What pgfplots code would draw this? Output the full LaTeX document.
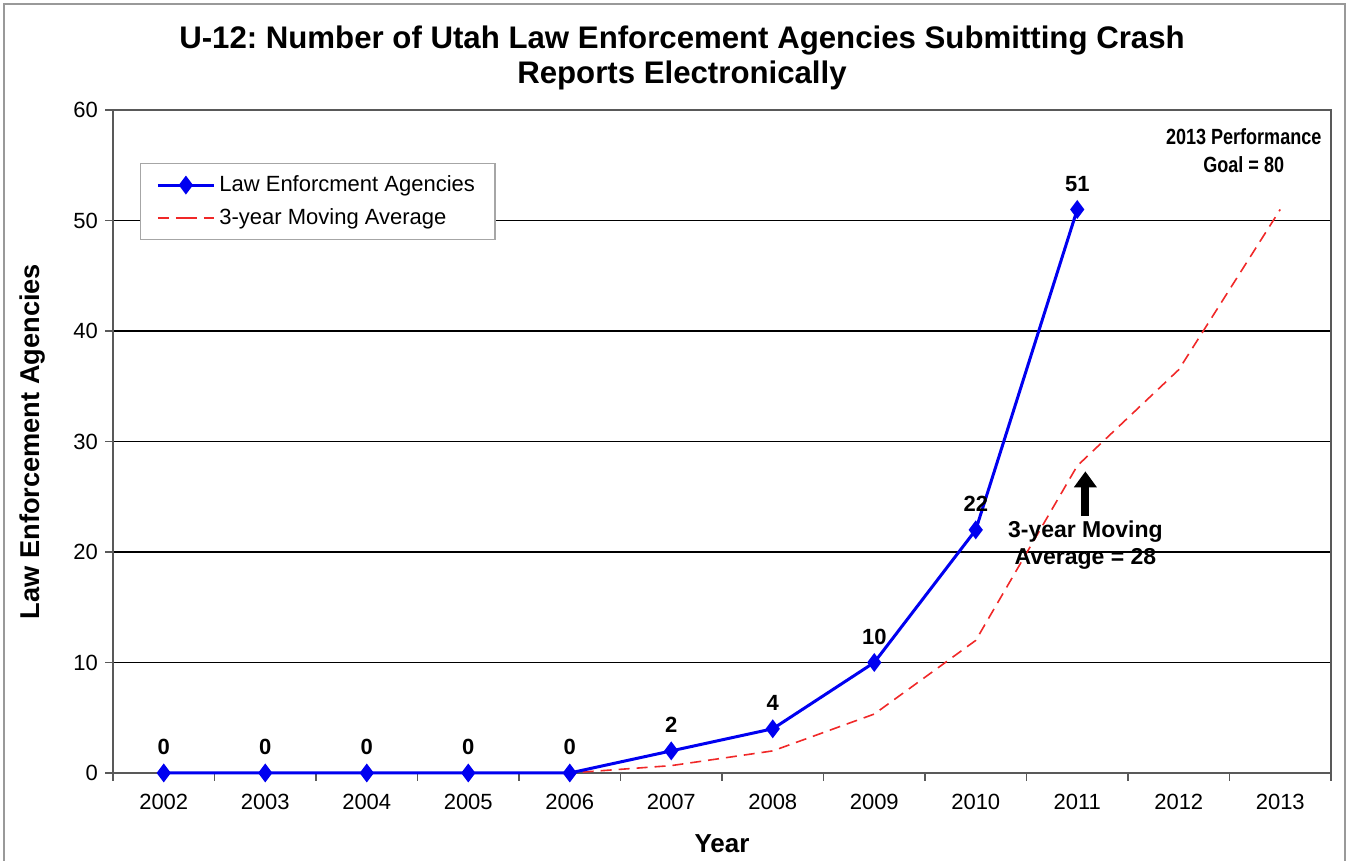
\documentclass[border=0pt]{standalone}
\usepackage{fontspec}
\setmainfont{Liberation Sans}
\usepackage{graphicx}
\usepackage{pgfplots}
\pgfplotsset{compat=1.18}
\usetikzlibrary{arrows.meta}
\definecolor{lineblue}{RGB}{0,0,240}
\definecolor{mared}{RGB}{240,40,40}
\frenchspacing
\begin{document}
\begin{tikzpicture}
\clip (0,0) rectangle (674.5pt,430.5pt);
\useasboundingbox (0,0) rectangle (674.5pt,430.5pt);
\draw[gray!80, line width=1.2pt] (2pt,-10pt) rectangle (672.5pt,428.5pt);
\node[font=\bfseries\fontsize{15.6}{17.5}\selectfont, align=center] at (341pt,401.75pt)
  {U-12: Number of Utah Law Enforcement Agencies Submitting Crash\\Reports Electronically};
\begin{axis}[
  at={(56.5pt,44pt)}, anchor=south west,
  scale only axis, width=609pt, height=331.5pt,
  xmin=-0.5, xmax=11.5, ymin=0, ymax=60,
  xtick={0,...,11},
  xticklabels={2002,2003,2004,2005,2006,2007,2008,2009,2010,2011,2012,2013},
  major x tick style={draw=none},
  minor xtick={-0.5,0.5,...,11.5},
  ytick={0,10,...,60},
  xtick pos=bottom, ytick pos=left,
  tick align=outside,
  major tick length=4pt, minor tick length=4pt,
  x tick label style={yshift=-3pt},
  ymajorgrids, grid style={black, line width=0.6pt},
  axis line style={gray!70!black, line width=0.7pt},
  tick style={gray!70!black, line width=0.6pt},
  ticklabel style={font=\fontsize{11}{13}\selectfont},
  /pgf/number format/assume math mode=true,
  xlabel={Year}, ylabel={Law Enforcement Agencies},
  xlabel style={font=\bfseries\fontsize{13}{15}\selectfont, yshift=-5.5pt},
  ylabel style={font=\bfseries\fontsize{13.6}{15}\selectfont, yshift=7pt},
  legend style={at={(rel axis cs:0.022,0.92)}, anchor=north west,
    draw=gray!70, line width=0.6pt, font=\fontsize{11}{13}\selectfont,
    row sep=3pt, inner xsep=8pt, inner ysep=4pt, legend cell align=left},
  legend image code/.code={\draw[#1] (0pt,0pt) -- (14pt,0pt) plot coordinates {(14pt,0pt)} -- (28pt,0pt);},
  clip=false,
]
\addplot[mared, line width=0.8pt, dash pattern=on 5.5pt off 3.5pt, forget plot] coordinates {
  (2,0) (3,0) (4,0) (5,0.667) (6,2) (7,5.333) (8,12) (9,27.8) (10,36.5) (11,51)};
\addplot[lineblue, line width=1.5pt, mark=diamond*, mark size=3.5pt,
  nodes near coords, every node near coord/.append style={black, font=\bfseries\fontsize{11}{13}\selectfont, yshift=5pt}] coordinates {
  (0,0) (1,0) (2,0) (3,0) (4,0) (5,2) (6,4) (7,10) (8,22) (9,51)};
\addlegendentry{Law Enforcment Agencies}
\addlegendimage{mared, line width=0.8pt, dash pattern=on 5.5pt off 3.5pt}
\addlegendentry{3-year Moving Average}
\draw[black, line width=4pt, -{Triangle[width=11pt,length=8pt]}] (axis cs:9.08,23.3) -- (axis cs:9.08,27.3);
\node[font=\bfseries\fontsize{11.5}{13.5}\selectfont, align=center] at (axis cs:9.08,20.6) {3-year Moving\\Average = 28};
\node[font=\bfseries\fontsize{11}{14}\selectfont, align=center] at (axis cs:10.64,56.3)
  {\scalebox{0.82}[1]{2013 Performance}\\\scalebox{0.82}[1]{Goal = 80}};
\end{axis}
\end{tikzpicture}
\end{document}
